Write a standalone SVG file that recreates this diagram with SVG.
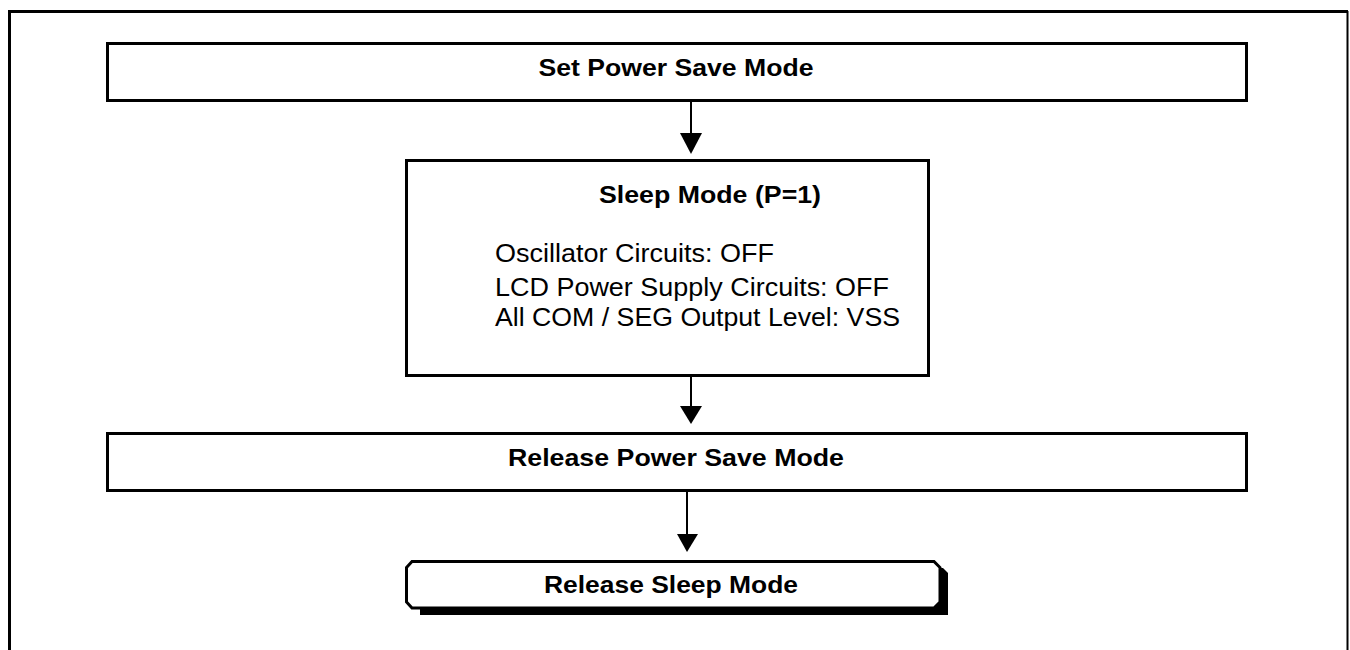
<svg xmlns="http://www.w3.org/2000/svg" width="1350" height="650" viewBox="0 0 1350 650">
<style>
.box{fill:#fff;stroke:#000;stroke-width:3}
.t{font-family:"Liberation Sans",Arial,sans-serif;fill:#000}
.b{font-weight:bold;font-size:24px}
.r{font-size:25px}
.c{stroke:#000;stroke-width:2;fill:none}
.h{fill:#000}
</style>
<rect width="1350" height="650" fill="#fff"/>
<g id="frame">
<line x1="9.5" y1="11" x2="9.5" y2="650" stroke="#000" stroke-width="3"/>
<line x1="8" y1="11.5" x2="1348" y2="11.5" stroke="#000" stroke-width="3"/>
<line x1="1347.5" y1="11" x2="1347.5" y2="650" stroke="#000" stroke-width="2"/>
</g>
<g id="connectors">
<line class="c" x1="691" y1="101" x2="691" y2="136"/>
<polygon class="h" points="680,133 702,133 691,154"/>
<line class="c" x1="691" y1="376" x2="691" y2="409"/>
<polygon class="h" points="680,406 702,406 691,424"/>
<line class="c" x1="687" y1="491" x2="687" y2="537"/>
<polygon class="h" points="677,534 698,534 687,552"/>
</g>
<g id="set-power-save">
<rect class="box" x="107.5" y="43.5" width="1139" height="57"/>
<text class="t b" x="676" y="76" text-anchor="middle" textLength="275" lengthAdjust="spacingAndGlyphs">Set Power Save Mode</text>
</g>
<g id="sleep-mode">
<rect class="box" x="406.5" y="160.5" width="522" height="215"/>
<text class="t b" x="599" y="203" textLength="222" lengthAdjust="spacingAndGlyphs">Sleep Mode (P=1)</text>
<text class="t r" x="495" y="262" textLength="279" lengthAdjust="spacingAndGlyphs">Oscillator Circuits: OFF</text>
<text class="t r" x="495" y="296" textLength="394" lengthAdjust="spacingAndGlyphs">LCD Power Supply Circuits: OFF</text>
<text class="t r" x="495" y="326" textLength="405" lengthAdjust="spacingAndGlyphs">All COM / SEG Output Level: VSS</text>
</g>
<g id="release-power-save">
<rect class="box" x="107.5" y="433.5" width="1139" height="57"/>
<text class="t b" x="676" y="466" text-anchor="middle" textLength="336" lengthAdjust="spacingAndGlyphs">Release Power Save Mode</text>
</g>
<g id="release-sleep">
<polygon fill="#000" points="420,568 943,568 948,573 948,615 943,615 420,615"/>
<polygon class="box" points="412,561.5 934,561.5 940,567.5 940,602 934,608 412,608 406.5,602 406.5,567.5"/>
<text class="t b" x="544" y="593" textLength="254" lengthAdjust="spacingAndGlyphs">Release Sleep Mode</text>
</g>
</svg>
